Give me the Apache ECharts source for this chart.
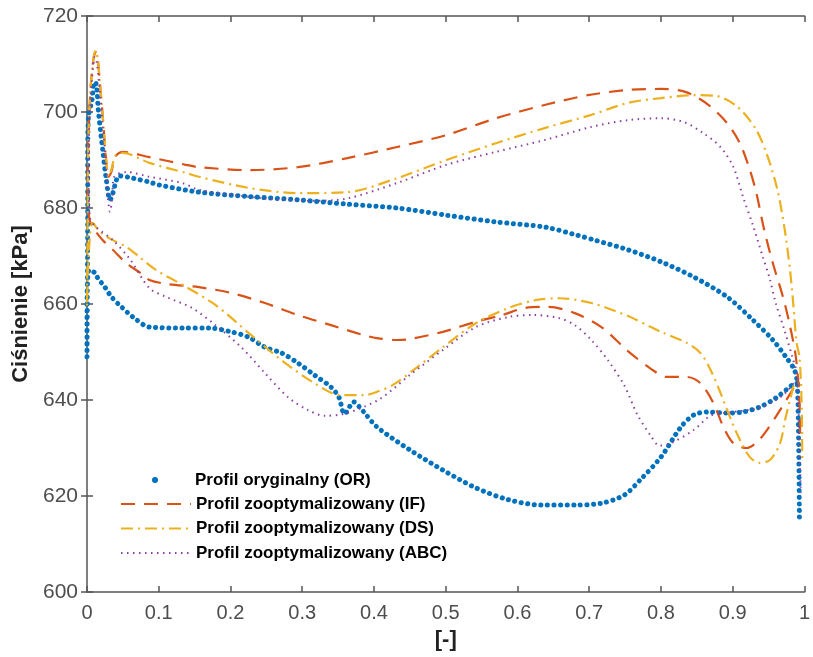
<!DOCTYPE html>
<html>
<head>
<meta charset="utf-8">
<title>Ciśnienie - profile</title>
<script src="https://cdn.jsdelivr.net/npm/echarts@6/dist/echarts.min.js"></script>
<style>
  html, body { margin: 0; padding: 0; background: #fff; }
  #chart { width: 813px; height: 657px; }
</style>
</head>
<body>
<div id="chart"></div>
<script>
// nazwy serii (legenda)
var seriesNames = [
  'Profil oryginalny (OR)',
  'Profil zooptymalizowany (IF)',
  'Profil zooptymalizowany (DS)',
  'Profil zooptymalizowany (ABC)'
];

// punkty: [x, cisnienie kPa], po obwodzie profilu
var profilOR = [
  [0.990, 643.5], [0.983, 643.1], [0.960, 640.4], [0.937, 638.5], [0.914, 637.5],
  [0.892, 637.3], [0.864, 637.5], [0.846, 636.9], [0.828, 634.4], [0.800, 628.1],
  [0.772, 623.5], [0.749, 620.2], [0.717, 618.5], [0.680, 618.1], [0.634, 618.1],
  [0.588, 619.2], [0.542, 621.7], [0.496, 625.4], [0.450, 629.6], [0.404, 634.4],
  [0.387, 637.3], [0.380, 638.5], [0.372, 639.6], [0.359, 637.1], [0.351, 640.6],
  [0.340, 642.7], [0.317, 645.2], [0.294, 647.7], [0.271, 649.8], [0.248, 651.0],
  [0.225, 653.1], [0.201, 654.2], [0.170, 655.0], [0.133, 655.0], [0.087, 655.2],
  [0.064, 657.3], [0.048, 659.4], [0.034, 661.5], [0.025, 663.5], [0.015, 665.4],
  [0.011, 666.5], [0.003, 667.1], [0.000, 657.0], [0.000, 649.0], [0.001, 681.0],
  [0.001, 687.0], [0.001, 690.6], [0.002, 699.0], [0.007, 702.5], [0.010, 706.2],
  [0.013, 705.8], [0.016, 700.0], [0.022, 692.0], [0.027, 685.8], [0.032, 681.7],
  [0.035, 682.5], [0.039, 684.8], [0.045, 686.7], [0.064, 686.2], [0.087, 685.4],
  [0.100, 684.8], [0.156, 683.3], [0.225, 682.4], [0.294, 681.7], [0.363, 680.8],
  [0.432, 680.0], [0.501, 678.5], [0.570, 677.1], [0.639, 676.0], [0.684, 674.3],
  [0.708, 673.3], [0.754, 671.3], [0.800, 668.8], [0.846, 665.6], [0.892, 661.5],
  [0.928, 656.7], [0.956, 652.5], [0.974, 649.0], [0.986, 646.3], [0.990, 643.5],
  [0.992, 630.0], [0.993, 615.5]
];

var profilIF = [
  [0.985, 642.5], [0.960, 636.5], [0.937, 631.7], [0.919, 630.0], [0.901, 631.0],
  [0.887, 634.4], [0.873, 639.4], [0.855, 643.5], [0.836, 644.8], [0.808, 644.8],
  [0.786, 646.5], [0.754, 650.2], [0.717, 655.2], [0.680, 658.1], [0.643, 659.4],
  [0.611, 659.2], [0.579, 657.7], [0.542, 656.3], [0.496, 654.2], [0.450, 652.7],
  [0.432, 652.5], [0.404, 652.9], [0.386, 653.5], [0.340, 655.6], [0.294, 657.7],
  [0.248, 660.2], [0.201, 662.3], [0.156, 663.5], [0.110, 664.2], [0.087, 665.0],
  [0.077, 666.2], [0.055, 668.5], [0.036, 671.3], [0.022, 673.3], [0.008, 676.0],
  [0.003, 678.0], [0.001, 685.0], [0.002, 695.0], [0.005, 705.0], [0.009, 711.0],
  [0.012, 712.5], [0.015, 711.0], [0.018, 706.0], [0.022, 699.0], [0.027, 689.4],
  [0.030, 686.5], [0.034, 687.5], [0.039, 690.6], [0.050, 691.7], [0.087, 690.6],
  [0.138, 689.0], [0.156, 688.5], [0.225, 687.9], [0.294, 688.5], [0.363, 690.4],
  [0.432, 692.7], [0.501, 695.2], [0.570, 698.7], [0.639, 701.5], [0.698, 703.5],
  [0.754, 704.6], [0.800, 704.8], [0.834, 704.2], [0.866, 701.5], [0.892, 697.7],
  [0.910, 693.5], [0.924, 687.9], [0.933, 683.1], [0.944, 675.4], [0.956, 668.5],
  [0.970, 661.5], [0.979, 656.0], [0.988, 649.0], [0.993, 640.0], [0.994, 632.0]
];

var profilDS = [
  [0.985, 643.0], [0.974, 636.5], [0.966, 631.0], [0.952, 627.5], [0.937, 626.9],
  [0.924, 628.1], [0.910, 631.7], [0.896, 636.5], [0.883, 641.5], [0.869, 646.3],
  [0.855, 649.8], [0.836, 651.9], [0.800, 654.2], [0.786, 655.2], [0.754, 657.5],
  [0.703, 660.2], [0.657, 661.2], [0.625, 660.8], [0.588, 659.2], [0.542, 656.0],
  [0.496, 651.0], [0.459, 646.7], [0.427, 643.2], [0.404, 641.7], [0.386, 641.0],
  [0.353, 641.0], [0.317, 643.5], [0.271, 648.3], [0.225, 654.0], [0.179, 659.8],
  [0.133, 664.0], [0.097, 667.0], [0.073, 669.8], [0.055, 671.9], [0.036, 673.3],
  [0.018, 675.0], [0.008, 676.9], [0.003, 672.0], [0.000, 659.5], [0.001, 680.0],
  [0.002, 695.0], [0.005, 705.0], [0.009, 711.0], [0.012, 712.8], [0.015, 711.0],
  [0.018, 706.0], [0.022, 699.0], [0.027, 690.0], [0.030, 686.5], [0.034, 688.0],
  [0.040, 691.0], [0.050, 691.5], [0.087, 689.4], [0.138, 687.3], [0.156, 686.5],
  [0.225, 684.2], [0.294, 683.1], [0.363, 683.3], [0.432, 686.2], [0.501, 690.0],
  [0.570, 693.5], [0.639, 696.7], [0.703, 699.4], [0.754, 701.9], [0.800, 702.9],
  [0.846, 703.5], [0.875, 703.4], [0.905, 701.3], [0.932, 696.5], [0.948, 691.0],
  [0.962, 684.0], [0.972, 676.0], [0.980, 667.0], [0.985, 659.0], [0.989, 652.0],
  [0.993, 649.0], [0.996, 640.0], [0.997, 627.0]
];

var profilABC = [
  [0.985, 643.5], [0.970, 641.0], [0.940, 638.5], [0.900, 637.5], [0.870, 636.8],
  [0.846, 633.8], [0.814, 631.0], [0.798, 630.5], [0.786, 632.5], [0.767, 637.0],
  [0.749, 643.0], [0.726, 648.3], [0.703, 652.5], [0.680, 655.6], [0.657, 657.1],
  [0.621, 657.7], [0.588, 657.3], [0.542, 655.2], [0.496, 650.4], [0.450, 645.2],
  [0.408, 640.2], [0.363, 637.3], [0.331, 636.7], [0.308, 637.9], [0.280, 640.6],
  [0.248, 645.6], [0.215, 651.0], [0.179, 655.6], [0.146, 659.2], [0.110, 661.5],
  [0.087, 663.3], [0.059, 669.5], [0.036, 673.3], [0.013, 676.0], [0.004, 678.0],
  [0.002, 690.0], [0.004, 700.0], [0.007, 707.0], [0.011, 711.5], [0.014, 710.0],
  [0.018, 704.0], [0.022, 697.0], [0.025, 692.0], [0.027, 687.3], [0.029, 682.3],
  [0.032, 679.2], [0.035, 682.0], [0.038, 686.5], [0.055, 687.5], [0.087, 686.5],
  [0.133, 685.2], [0.156, 683.8], [0.248, 682.0], [0.317, 681.5], [0.363, 682.0],
  [0.432, 685.2], [0.501, 689.0], [0.570, 691.7], [0.639, 694.2], [0.703, 696.9],
  [0.754, 698.3], [0.800, 698.7], [0.832, 697.9], [0.859, 695.6], [0.883, 692.7],
  [0.901, 688.5], [0.914, 682.5], [0.928, 676.5], [0.942, 669.8], [0.951, 665.6],
  [0.960, 660.2], [0.972, 654.6], [0.983, 649.0], [0.990, 645.0], [0.993, 630.0],
  [0.995, 620.6]
];

var chart = echarts.init(document.getElementById('chart'));

var axisGrey = '#7f7f7f';
var labelFont = 'Liberation Sans, Arial, sans-serif';
var legendText = { fontFamily: labelFont, fontSize: 17, fontWeight: 'bold', color: '#000', lineHeight: 20 };

var option = {
  animation: false,
  backgroundColor: '#fff',
  grid: { left: 87, right: 1, top: 16, bottom: 65 },
  legend: [
    {
      // sam punkt jako znacznik OR
      data: [{ name: seriesNames[0], icon: 'circle' }],
      left: 152, top: 470, padding: 0,
      itemWidth: 6, itemHeight: 6,
      textStyle: Object.assign({}, legendText, { padding: [0, 0, 0, 32] })
    },
    {
      data: [seriesNames[1], seriesNames[2], seriesNames[3]],
      orient: 'vertical',
      left: 120, top: 494, padding: 0,
      itemWidth: 70, itemHeight: 14, itemGap: 4.5,
      itemStyle: { opacity: 0 },
      textStyle: legendText
    }
  ],
  xAxis: [
    {
      type: 'value', min: 0, max: 1, interval: 0.1,
      name: '[-]', nameLocation: 'middle', nameGap: 37,
      nameTextStyle: { fontFamily: labelFont, fontSize: 22, fontWeight: 'bold', color: '#222' },
      axisLine: { show: true, lineStyle: { color: axisGrey, width: 2 } },
      axisTick: { show: true, inside: true, length: 6, lineStyle: { color: '#555', width: 1.5 } },
      axisLabel: { fontFamily: labelFont, fontSize: 20, color: '#4d4d4d', margin: 11 },
      splitLine: { show: false }
    },
    {
      type: 'value', min: 0, max: 1, interval: 0.1, position: 'top',
      axisLine: { show: true, lineStyle: { color: axisGrey, width: 2 } },
      axisTick: { show: true, inside: true, length: 6, lineStyle: { color: '#555', width: 1.5 } },
      axisLabel: { show: false },
      splitLine: { show: false }
    }
  ],
  yAxis: [
    {
      type: 'value', min: 600, max: 720, interval: 20,
      name: 'Ciśnienie [kPa]', nameLocation: 'middle', nameGap: 43, nameRotate: 90,
      nameTextStyle: { fontFamily: labelFont, fontSize: 22, fontWeight: 'bold', color: '#222' },
      axisLine: { show: true, lineStyle: { color: axisGrey, width: 2 } },
      axisTick: { show: true, inside: true, length: 6, lineStyle: { color: '#555', width: 1.5 } },
      axisLabel: { fontFamily: labelFont, fontSize: 21, color: '#4d4d4d', margin: 9 },
      splitLine: { show: false }
    },
    {
      type: 'value', min: 600, max: 720, interval: 20, position: 'right',
      axisLine: { show: true, lineStyle: { color: axisGrey, width: 2 } },
      axisTick: { show: true, inside: true, length: 6, lineStyle: { color: '#555', width: 1.5 } },
      axisLabel: { show: false },
      splitLine: { show: false }
    }
  ],
  series: [
    {
      name: seriesNames[0], type: 'line', data: profilOR,
      symbol: 'none', smooth: 0.3,
      itemStyle: { color: '#0072BD' },
      lineStyle: { color: '#0072BD', width: 5, type: [0.1, 6.5], cap: 'round' }
    },
    {
      name: seriesNames[1], type: 'line', data: profilIF,
      symbol: 'none', smooth: 0.3,
      itemStyle: { color: '#D95319' },
      lineStyle: { color: '#D95319', width: 2.2, type: [14, 9] }
    },
    {
      name: seriesNames[2], type: 'line', data: profilDS,
      symbol: 'none', smooth: 0.3,
      itemStyle: { color: '#EDB120' },
      lineStyle: { color: '#EDB120', width: 2.2, type: [12, 5, 2, 5] }
    },
    {
      name: seriesNames[3], type: 'line', data: profilABC,
      symbol: 'none', smooth: 0.3,
      itemStyle: { color: '#8B3FA0' },
      lineStyle: { color: '#8B3FA0', width: 2, type: [1.5, 4.5] }
    }
  ]
};

chart.setOption(option);
</script>
</body>
</html>
